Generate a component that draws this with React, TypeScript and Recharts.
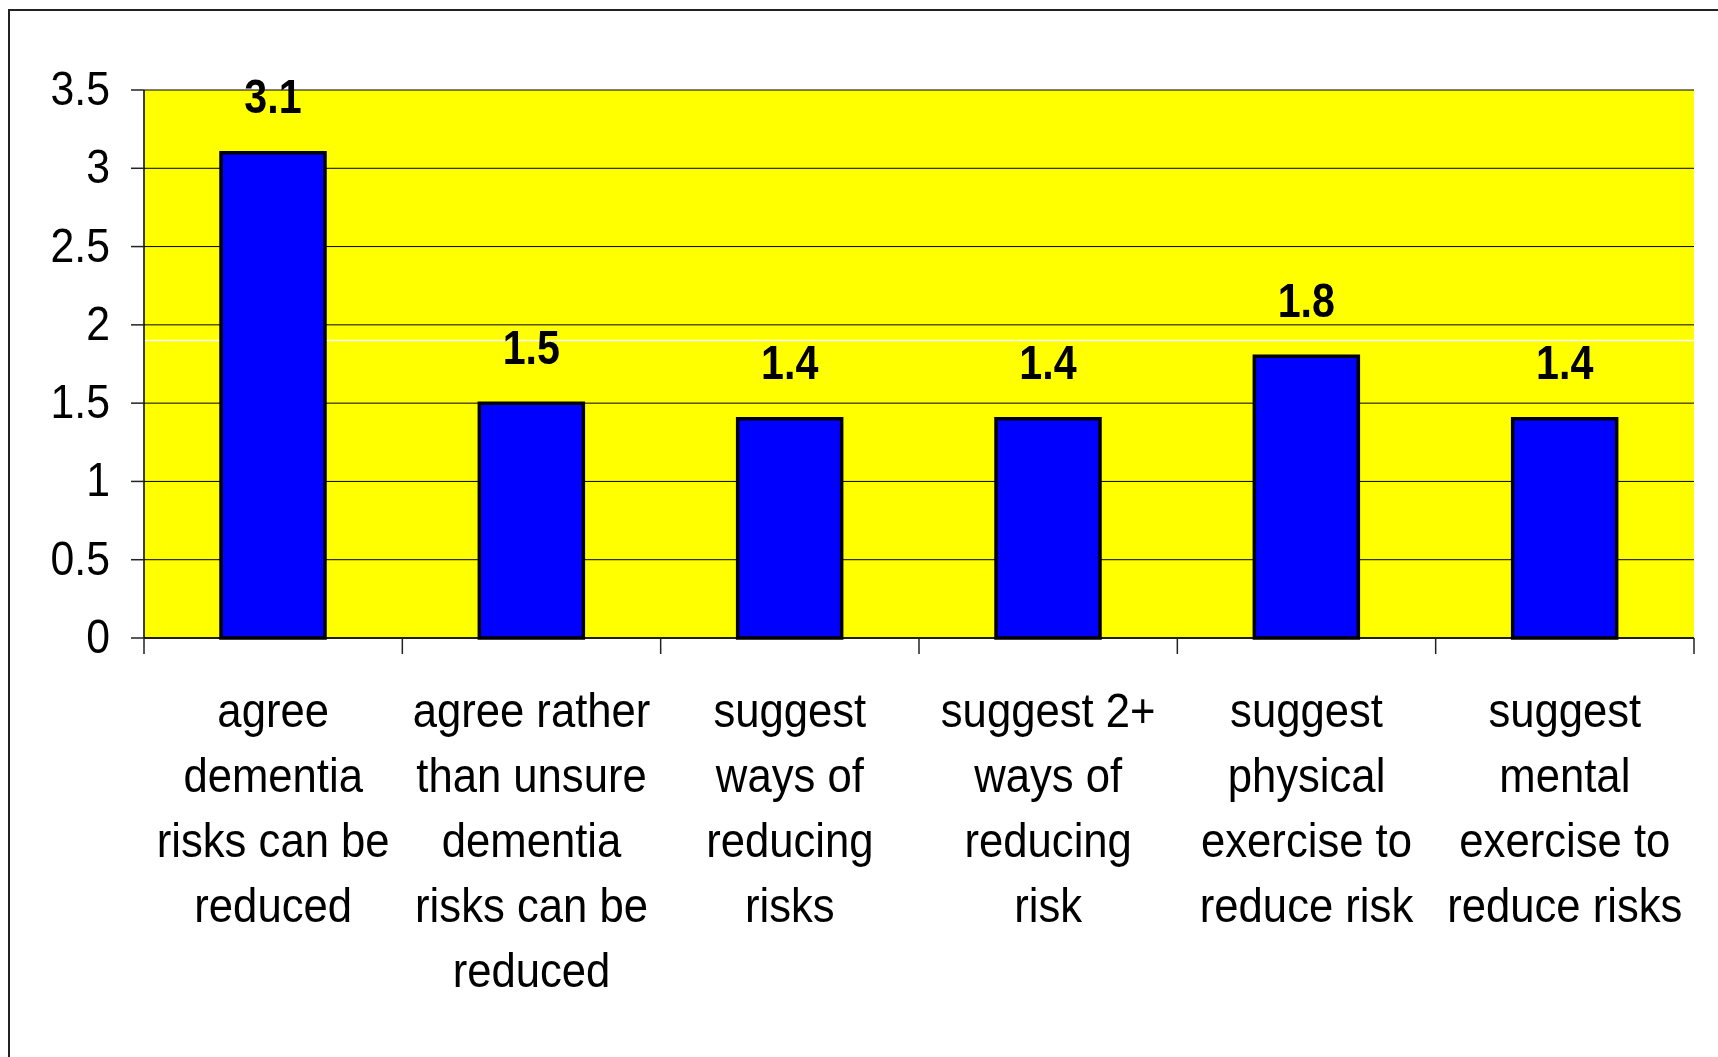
import React from 'react';
import { BarChart, Bar, XAxis, YAxis, CartesianGrid, LabelList } from 'recharts';

const categoryLines: string[][] = [
  ['agree', 'dementia', 'risks can be', 'reduced'],
  ['agree rather', 'than unsure', 'dementia', 'risks can be', 'reduced'],
  ['suggest', 'ways of', 'reducing', 'risks'],
  ['suggest 2+', 'ways of', 'reducing', 'risk'],
  ['suggest', 'physical', 'exercise to', 'reduce risk'],
  ['suggest', 'mental', 'exercise to', 'reduce risks'],
];
const values: number[] = [3.1, 1.5, 1.4, 1.4, 1.8, 1.4];
const yTicks: number[] = [0, 0.5, 1, 1.5, 2, 2.5, 3, 3.5];
const whiteLineValues: number[] = [1.9];

const data = categoryLines.map((lines, i) => ({ name: lines.join(' '), value: values[i], idx: i }));

const FONT = 'Liberation Sans, Arial, Helvetica, sans-serif';

const XTick = (props: any) => {
  const { x, y, index, width, visibleTicksCount } = props;
  const lines = categoryLines[index] || [];
  const count = Number(visibleTicksCount) || categoryLines.length;
  const band = Number(width) > 0 ? Number(width) / count : 0;
  const half = band / 2;
  return (
    <g>
      {band > 0 && (
        <line x1={x - half} x2={x - half} y1={y} y2={y + 16} stroke="#222" strokeWidth={1.5} />
      )}
      {band > 0 && index === count - 1 && (
        <line x1={x + half} x2={x + half} y1={y} y2={y + 16} stroke="#222" strokeWidth={1.5} />
      )}
      <g transform={`translate(${x},${y})`}>
        <g transform="scale(0.9,1)">
          <text textAnchor="middle" fontSize={48.5} fontFamily={FONT} fill="#000">
            {lines.map((l, i) => (
              <tspan key={i} x={0} y={89.5 + i * 65}>{l}</tspan>
            ))}
          </text>
        </g>
      </g>
    </g>
  );
};

const YTick = (props: any) => {
  const { x, y, payload } = props;
  return (
    <g transform={`translate(${x},${y})`}>
      <text transform="scale(0.89,1)" textAnchor="end" y={15} fontSize={48} fontFamily={FONT} fill="#000">
        {String(payload.value)}
      </text>
    </g>
  );
};

const ValueLabel = (props: any) => {
  const { x, y, width, value } = props;
  return (
    <g transform={`translate(${Number(x) + Number(width) / 2},${Number(y) - 39.5})`}>
      <text transform="scale(0.85,1)" textAnchor="middle" fontSize={48.5} fontWeight="bold" fontFamily={FONT} fill="#000">
        {String(value)}
      </text>
    </g>
  );
};

export default function App() {
  return (
    <div style={{ position: 'relative', width: 1702, height: 1040 }}>
      <div
        style={{
          position: 'fixed',
          left: 8,
          top: 9,
          width: 3000,
          height: 3000,
          borderTop: '2px solid #222',
          borderLeft: '2px solid #222',
          pointerEvents: 'none',
        }}
      />
      <BarChart
        width={1702}
        height={1040}
        data={data}
        margin={{ top: 82, right: 16, left: 0, bottom: 0 }}
      >
        <CartesianGrid vertical={false} stroke="#000" strokeWidth={1} fill="#FFFF00" fillOpacity={1} />
        <CartesianGrid
          vertical={false}
          horizontalValues={whiteLineValues}
          stroke="#FFFFFF"
          strokeWidth={1.5}
          fill="none"
        />
        <XAxis
          dataKey="name"
          interval={0}
          tick={<XTick />}
          tickLine={false}
          tickSize={0}
          tickMargin={0}
          axisLine={{ stroke: '#000', strokeWidth: 1.5 }}
          height={410}
        />
        <YAxis
          domain={[0, 3.5]}
          ticks={yTicks}
          width={136}
          tick={<YTick />}
          tickSize={13}
          tickMargin={21}
          tickLine={{ stroke: '#222', strokeWidth: 1.5 }}
          axisLine={{ stroke: '#000', strokeWidth: 1.5 }}
          interval={0}
        />
        <YAxis
          yAxisId="right"
          orientation="right"
          domain={[0, 3.5]}
          width={0}
          tick={false}
          tickLine={false}
          axisLine={{ stroke: '#222', strokeWidth: 1.5 }}
        />
        <Bar dataKey="value" fill="#0000FF" stroke="#000" strokeWidth={3.5} barSize={104} isAnimationActive={false}>
          <LabelList dataKey="value" content={<ValueLabel />} />
        </Bar>
      </BarChart>
    </div>
  );
}
